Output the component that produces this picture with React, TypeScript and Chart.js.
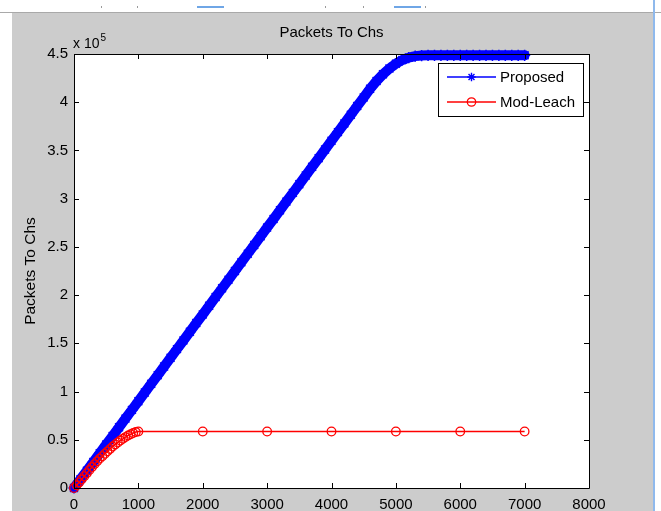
import React, { useEffect, useRef } from "react";
import { Chart, registerables } from "chart.js";

Chart.register(...registerables);

const chartTitle = "Packets To Chs";
const yAxisTitle = "Packets To Chs";
const yExponentBase = "x 10";
const yExponent = "5";
const seriesLabels = ["Proposed", "Mod-Leach"];

const xTicks = [0, 1000, 2000, 3000, 4000, 5000, 6000, 7000, 8000];
const yTicks = [0, 50000, 100000, 150000, 200000, 250000, 300000, 350000, 400000, 450000];

const proposedRounds = [
  0, 100, 200, 300, 400, 500, 600, 700, 800, 900,
  1000, 1100, 1200, 1300, 1400, 1500, 1600, 1700, 1800, 1900,
  2000, 2100, 2200, 2300, 2400, 2500, 2600, 2700, 2800, 2900,
  3000, 3100, 3200, 3300, 3400, 3500, 3600, 3700, 3800, 3900,
  4000, 4100, 4200, 4300, 4400, 4500, 4600, 4700, 4800, 4900,
  5000, 5100, 5200, 5300, 5400, 5500, 5600, 5700, 5800, 5900,
  6000, 6100, 6200, 6300, 6400, 6500, 6600, 6700, 6800, 6900,
  7000,
];
const proposedPackets = [
  0, 9000, 18000, 27000, 36000, 45000, 54000, 63000, 72000, 81000,
  90000, 99000, 108000, 117000, 126000, 135000, 144000, 153000, 162000, 171000,
  180000, 189000, 198000, 207000, 216000, 225000, 234000, 243000, 252000, 261000,
  270000, 279000, 288000, 297000, 306000, 315000, 324000, 333000, 342000, 351000,
  360000, 369000, 378000, 387000, 396000, 405000, 414000, 422000, 429000, 435000,
  440000, 443800, 446300, 447800, 448400, 448600, 448600, 448600, 448600, 448600,
  448600, 448600, 448600, 448600, 448600, 448600, 448600, 448600, 448600, 448600,
  448600,
];

const modLeachRounds = [
  0, 40, 80, 120, 160, 200, 240, 280, 320, 360,
  400, 440, 480, 520, 560, 600, 640, 680, 720, 760,
  800, 840, 880, 920, 960, 1000, 2000, 3000, 4000, 5000,
  6000, 7000,
];
const modLeachPackets = [
  0, 2800, 5800, 9000, 12200, 15400, 18600, 21700, 24800, 27700,
  30500, 33000, 35500, 38000, 40500, 43000, 45200, 47200, 49200, 51000,
  52800, 54400, 55800, 57000, 58000, 58600, 58600, 58600, 58600, 58600,
  58600, 58600,
];

const FONT = '"Liberation Sans", Arial, Helvetica, sans-serif';
const BLUE = "#0000ff";
const RED = "#ff0000";

function drawStar(ctx: CanvasRenderingContext2D, x: number, y: number, r: number) {
  ctx.beginPath();
  ctx.moveTo(x - r, y);
  ctx.lineTo(x + r, y);
  ctx.moveTo(x, y - r);
  ctx.lineTo(x, y + r);
  const d = r * Math.SQRT1_2;
  ctx.moveTo(x - d, y - d);
  ctx.lineTo(x + d, y + d);
  ctx.moveTo(x - d, y + d);
  ctx.lineTo(x + d, y - d);
  ctx.stroke();
}

const matlabPlugin = {
  id: "matlabAxes",
  beforeDatasetsDraw(chart: any) {
    const { ctx, chartArea: a } = chart;
    ctx.save();
    ctx.fillStyle = "#ffffff";
    ctx.fillRect(a.left, a.top, a.right - a.left, a.bottom - a.top);
    ctx.restore();
  },
  afterDraw(chart: any) {
    const { ctx, chartArea: a } = chart;
    const xs = chart.scales.x;
    const ys = chart.scales.y;
    ctx.save();
    ctx.strokeStyle = "#000000";
    ctx.lineWidth = 1;
    ctx.beginPath();
    ctx.rect(Math.round(a.left) + 0.5, Math.round(a.top) + 0.5, Math.round(a.right - a.left), Math.round(a.bottom - a.top));
    ctx.stroke();
    const tl = 5;
    ctx.beginPath();
    xTicks.forEach((v) => {
      const px = Math.round(xs.getPixelForValue(v)) + 0.5;
      ctx.moveTo(px, a.bottom);
      ctx.lineTo(px, a.bottom - tl);
      ctx.moveTo(px, a.top);
      ctx.lineTo(px, a.top + tl);
    });
    yTicks.forEach((v) => {
      const py = Math.round(ys.getPixelForValue(v)) + 0.5;
      ctx.moveTo(a.left, py);
      ctx.lineTo(a.left + tl, py);
      ctx.moveTo(a.right, py);
      ctx.lineTo(a.right - tl, py);
    });
    ctx.stroke();

    ctx.fillStyle = "#000000";
    ctx.font = `15px ${FONT}`;
    ctx.textAlign = "center";
    ctx.textBaseline = "middle";
    ctx.fillText(chartTitle, (a.left + a.right) / 2, a.top - 21);

    ctx.textAlign = "left";
    ctx.textBaseline = "alphabetic";
    ctx.font = `14px ${FONT}`;
    const bx = a.left - 1;
    const by = a.top - 6;
    ctx.fillText(yExponentBase, bx, by);
    const w = ctx.measureText(yExponentBase).width;
    ctx.font = `10px ${FONT}`;
    ctx.fillText(yExponent, bx + w + 1, by - 7);

    ctx.save();
    ctx.translate(a.left - 43, (a.top + a.bottom) / 2);
    ctx.rotate(-Math.PI / 2);
    ctx.font = `15.5px ${FONT}`;
    ctx.textAlign = "center";
    ctx.textBaseline = "middle";
    ctx.fillText(yAxisTitle, 0, 0);
    ctx.restore();

    const lx = Math.round(a.right - 6) - 145;
    const ly = Math.round(a.top) + 9;
    const lw = 145;
    const lh = 53;
    ctx.fillStyle = "#ffffff";
    ctx.fillRect(lx, ly, lw, lh);
    ctx.strokeStyle = "#000000";
    ctx.lineWidth = 1;
    ctx.strokeRect(lx + 0.5, ly + 0.5, lw, lh);
    const rows = [
      { label: seriesLabels[0], color: BLUE, marker: "star", y: ly + 14 },
      { label: seriesLabels[1], color: RED, marker: "circle", y: ly + 39 },
    ];
    rows.forEach((r) => {
      const yy = Math.round(r.y);
      ctx.strokeStyle = r.color;
      ctx.lineWidth = 1.5;
      ctx.beginPath();
      ctx.moveTo(lx + 9, yy);
      ctx.lineTo(lx + 58, yy);
      ctx.stroke();
      if (r.marker === "star") {
        ctx.lineWidth = 1.4;
        drawStar(ctx, lx + 33.5, yy, 4.2);
      } else {
        ctx.lineWidth = 1.3;
        ctx.beginPath();
        ctx.arc(lx + 33.5, yy, 4.2, 0, Math.PI * 2);
        ctx.stroke();
      }
      ctx.fillStyle = "#000000";
      ctx.font = `15px ${FONT}`;
      ctx.textAlign = "left";
      ctx.textBaseline = "middle";
      ctx.fillText(r.label, lx + 62, yy + 0.5);
    });
    ctx.restore();
  },
};

export default function App() {
  const canvasRef = useRef<HTMLCanvasElement | null>(null);

  useEffect(() => {
    if (!canvasRef.current) return;
    const chart = new Chart(canvasRef.current, {
      type: "line",
      data: {
        datasets: [
          {
            label: seriesLabels[0],
            data: proposedRounds.map((x, i) => ({ x, y: proposedPackets[i] })),
            borderColor: BLUE,
            backgroundColor: BLUE,
            borderWidth: 10,
            borderJoinStyle: "round",
            borderCapStyle: "round",
            pointStyle: "star",
            pointRadius: 5.6,
            pointBorderWidth: 1.5,
            pointBorderColor: BLUE,
            pointBackgroundColor: BLUE,
            pointHoverRadius: 5.6,
            tension: 0,
            order: 2,
            clip: false,
          } as any,
          {
            label: seriesLabels[1],
            data: modLeachRounds.map((x, i) => ({ x, y: modLeachPackets[i] })),
            borderColor: RED,
            backgroundColor: "rgba(0,0,0,0)",
            borderWidth: 1.6,
            pointStyle: "circle",
            pointRadius: 4.3,
            pointBorderWidth: 1.3,
            pointBorderColor: RED,
            pointBackgroundColor: "rgba(0,0,0,0)",
            pointHoverRadius: 4.3,
            tension: 0,
            order: 1,
            clip: false,
          } as any,
        ],
      },
      options: {
        animation: false,
        responsive: false,
        maintainAspectRatio: false,
        events: [],
        layout: { padding: { left: 0, right: 72, top: 54, bottom: 0 } },
        plugins: {
          legend: { display: false },
          tooltip: { enabled: false },
          title: { display: false },
        },
        scales: {
          x: {
            type: "linear",
            min: 0,
            max: 8000,
            grid: { display: false, drawTicks: false },
            border: { display: false },
            ticks: {
              color: "#000000",
              font: { family: FONT, size: 15 },
              padding: 8,
              maxRotation: 0,
              autoSkip: false,
              callback: (v: any) => String(v),
            },
            afterBuildTicks: (s: any) => {
              s.ticks = xTicks.map((v) => ({ value: v }));
            },
            afterFit: (s: any) => {
              s.height = 23;
            },
          },
          y: {
            type: "linear",
            min: 0,
            max: 450000,
            grid: { display: false, drawTicks: false },
            border: { display: false },
            ticks: {
              color: "#000000",
              font: { family: FONT, size: 15 },
              padding: 6,
              autoSkip: false,
              callback: (v: any) => String(Math.round(Number(v) / 10000) / 10),
            },
            afterBuildTicks: (s: any) => {
              s.ticks = yTicks.map((v) => ({ value: v }));
            },
            afterFit: (s: any) => {
              s.width = 74;
            },
          },
        },
      },
      plugins: [matlabPlugin],
    });
    return () => chart.destroy();
  }, []);

  const marks = [101, 137, 325, 363, 425];

  return (
    <div
      style={{
        position: "fixed",
        left: 0,
        top: 0,
        width: 661,
        height: 511,
        background: "#ffffff",
        overflow: "hidden",
      }}
    >
      <div style={{ position: "absolute", left: 0, top: 12, width: 661, height: 1, background: "#a9a9a9" }} />
      <div style={{ position: "absolute", left: 12, top: 13, width: 641, height: 498, background: "#cccccc" }} />
      <div style={{ position: "absolute", left: 653, top: 0, width: 2, height: 511, background: "#8fb9ec" }} />
      <div style={{ position: "absolute", left: 197, top: 6, width: 27, height: 2, background: "#6fa6e6" }} />
      <div style={{ position: "absolute", left: 394, top: 6, width: 27, height: 2, background: "#6fa6e6" }} />
      {marks.map((m) => (
        <div key={m} style={{ position: "absolute", left: m, top: 6, width: 1, height: 2, background: "#9a9a9a" }} />
      ))}
      <canvas
        ref={canvasRef}
        width={661}
        height={511}
        style={{ position: "absolute", left: 0, top: 0, width: 661, height: 511 }}
      />
    </div>
  );
}
